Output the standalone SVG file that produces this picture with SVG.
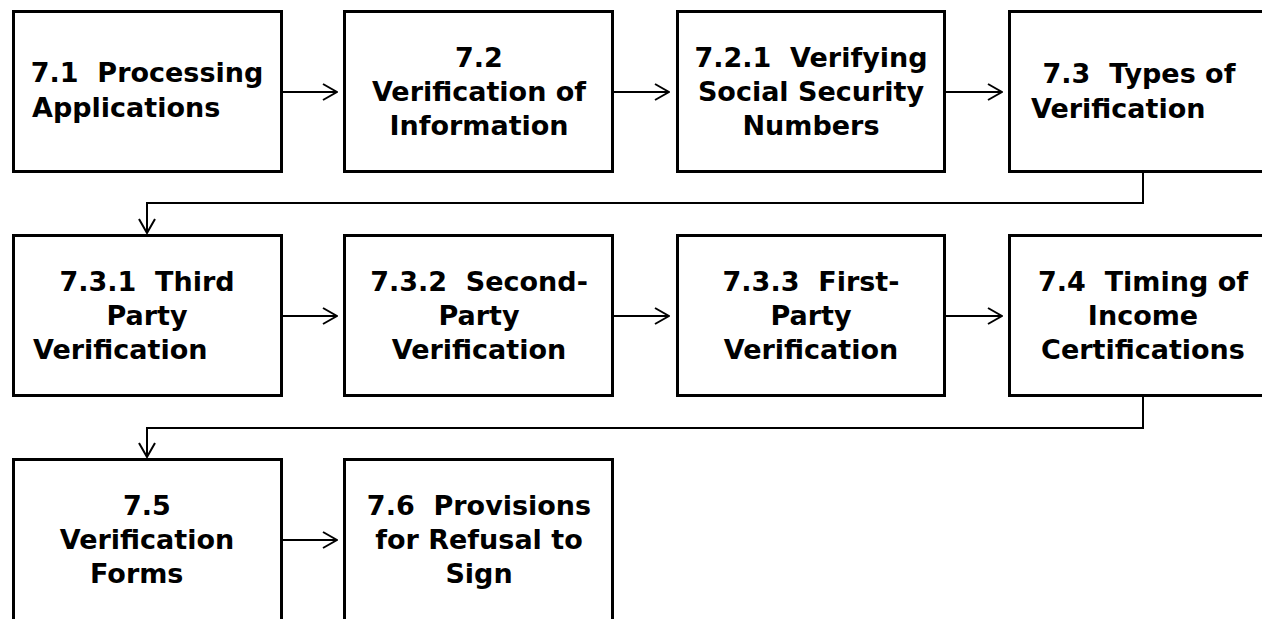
<svg xmlns="http://www.w3.org/2000/svg" width="1262" height="619" viewBox="0 0 1262 619" xml:space="preserve">
<defs>
<style>
.box{fill:#fff;stroke:#000;stroke-width:3}
.lbl{font-family:"DejaVu Sans",Verdana,sans-serif;font-weight:bold;font-size:27px;fill:#000;white-space:pre}
.m{text-anchor:middle}
.s{text-anchor:start}
.c{fill:none;stroke:#000;stroke-width:2}
</style>
<marker id="ah" viewBox="0 0 16 18" refX="15" refY="9" markerWidth="16" markerHeight="18" markerUnits="userSpaceOnUse" orient="auto">
<path d="M1,1 L15,9 L1,17" fill="none" stroke="#000" stroke-width="2"/>
</marker>
</defs>
<rect width="1262" height="619" fill="#fff"/>
<g id="connectors">
<line class="c" x1="283" y1="92" x2="337" y2="92" marker-end="url(#ah)"/>
<line class="c" x1="614" y1="92" x2="669" y2="92" marker-end="url(#ah)"/>
<line class="c" x1="946" y1="92" x2="1002" y2="92" marker-end="url(#ah)"/>
<path class="c" d="M1143,173 V203 H147 V233" marker-end="url(#ah)"/>
<line class="c" x1="283" y1="316" x2="337" y2="316" marker-end="url(#ah)"/>
<line class="c" x1="614" y1="316" x2="669" y2="316" marker-end="url(#ah)"/>
<line class="c" x1="946" y1="316" x2="1002" y2="316" marker-end="url(#ah)"/>
<path class="c" d="M1143,397 V428 H147 V457" marker-end="url(#ah)"/>
<line class="c" x1="283" y1="540" x2="337" y2="540" marker-end="url(#ah)"/>
</g>
<g id="n71"><rect class="box" x="13.5" y="11.5" width="268" height="160"/>
<text class="lbl m" x="147" y="82">7.1  Processing</text>
<text class="lbl s" x="32" y="117">Applications</text></g>
<g id="n72"><rect class="box" x="344.5" y="11.5" width="268" height="160"/>
<text class="lbl m" x="479" y="67">7.2</text>
<text class="lbl m" x="479" y="101">Verification of</text>
<text class="lbl m" x="479" y="135">Information</text></g>
<g id="n721"><rect class="box" x="677.5" y="11.5" width="267" height="160"/>
<text class="lbl m" x="811" y="67">7.2.1  Verifying</text>
<text class="lbl m" x="811" y="101">Social Security</text>
<text class="lbl m" x="811" y="135">Numbers</text></g>
<g id="n73"><rect class="box" x="1009.5" y="11.5" width="268" height="160"/>
<text class="lbl m" x="1139" y="83">7.3  Types of</text>
<text class="lbl s" x="1031" y="118">Verification</text></g>
<g id="n731"><rect class="box" x="13.5" y="235.5" width="268" height="160"/>
<text class="lbl m" x="147" y="291">7.3.1  Third</text>
<text class="lbl m" x="147" y="325">Party</text>
<text class="lbl s" x="33" y="359">Verification</text></g>
<g id="n732"><rect class="box" x="344.5" y="235.5" width="268" height="160"/>
<text class="lbl m" x="479" y="291">7.3.2  Second-</text>
<text class="lbl m" x="479" y="325">Party</text>
<text class="lbl m" x="479" y="359">Verification</text></g>
<g id="n733"><rect class="box" x="677.5" y="235.5" width="267" height="160"/>
<text class="lbl m" x="811" y="291">7.3.3  First-</text>
<text class="lbl m" x="811" y="325">Party</text>
<text class="lbl m" x="811" y="359">Verification</text></g>
<g id="n74"><rect class="box" x="1009.5" y="235.5" width="268" height="160"/>
<text class="lbl m" x="1143" y="291">7.4  Timing of</text>
<text class="lbl m" x="1143" y="325">Income</text>
<text class="lbl m" x="1143" y="359">Certifications</text></g>
<g id="n75"><rect class="box" x="13.5" y="459.5" width="268" height="170"/>
<text class="lbl m" x="147" y="515">7.5</text>
<text class="lbl m" x="147" y="549">Verification</text>
<text class="lbl s" x="90" y="583">Forms</text></g>
<g id="n76"><rect class="box" x="344.5" y="459.5" width="268" height="170"/>
<text class="lbl m" x="479" y="515">7.6  Provisions</text>
<text class="lbl m" x="479" y="549">for Refusal to</text>
<text class="lbl m" x="479" y="583">Sign</text></g>
</svg>
